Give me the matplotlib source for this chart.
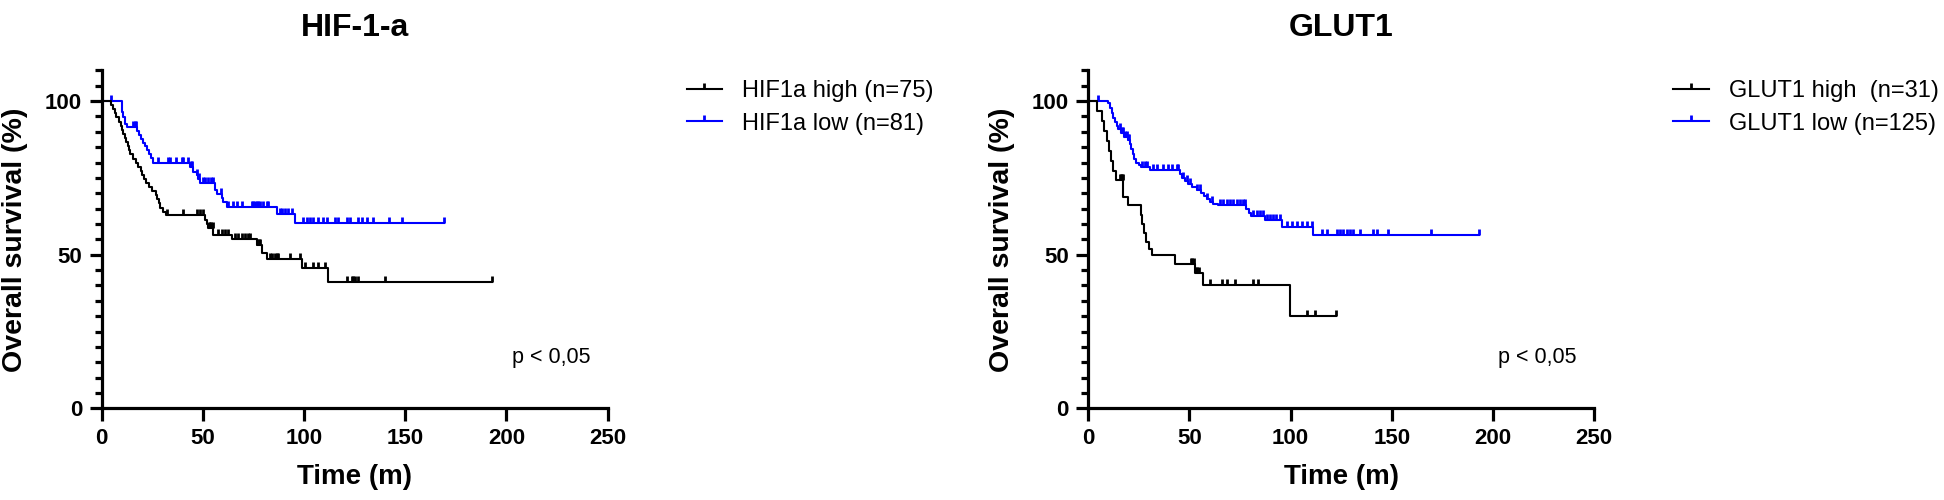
import numpy as np
import matplotlib
matplotlib.use("Agg")
import matplotlib.pyplot as plt
from matplotlib.lines import Line2D

plt.rcParams['font.family'] = ['Liberation Sans', 'DejaVu Sans']

# ---- HIF-1-a panel ----
# HIF1a high (black): event times (months) and survival (%) after each drop
hif_high_t = [4.4, 5.5, 6.5, 7.3, 8.6, 9.4, 10.0, 10.7, 11.5, 12.0, 12.8, 13.3, 14.1, 15.4,
              16.9, 18.1, 19.4, 20.0, 20.8, 22.0, 23.4, 25.0, 26.6, 27.4, 28.2, 29.0, 30.4,
              32.0, 51.0, 51.8, 52.6, 55.2, 64.2, 76.6, 79.0, 81.5, 98.8, 112.0]
hif_high_s = [98.7, 97.3, 96.0, 94.7, 93.3, 92.0, 90.7, 89.3, 88.0, 86.7, 85.3, 84.0, 82.7, 81.3,
              80.0, 78.7, 77.3, 76.0, 74.7, 73.3, 72.0, 70.7, 69.3, 68.0, 66.7, 65.3, 64.0,
              62.9, 61.3, 60.0, 58.7, 56.4, 55.0, 53.2, 50.5, 48.6, 45.6, 41.0]
hif_high_c = [32.5, 40.3, 47.0, 48.5, 50.2, 53.0, 53.6, 54.2, 54.8, 57.6, 59.3, 60.9, 62.6,
              65.9, 67.5, 69.2, 70.8, 72.5, 73.3, 76.9, 77.6, 78.4, 83.2, 84.0, 85.6, 86.5,
              87.3, 93.0, 98.0, 100.4, 104.6, 107.0, 110.3, 121.0, 123.5, 124.3, 125.1,
              126.8, 140.0, 192.7]

# HIF1a low (blue)
hif_low_t = [9.9, 10.7, 11.5, 12.3, 17.3, 18.3, 19.3, 20.3, 21.3, 22.3, 23.3, 24.3, 25.5,
             43.5, 45.2, 46.9, 47.7, 48.5, 56.0, 56.8, 59.3, 60.1, 61.8, 86.5, 95.5]
hif_low_s = [96.3, 94.9, 92.6, 91.4, 90.2, 89.0, 87.7, 86.5, 85.3, 84.0, 82.8, 81.6, 79.7,
             78.4, 77.0, 75.8, 74.5, 73.2, 71.0, 69.6, 68.3, 67.0, 65.6, 63.4, 60.2]
hif_low_c = [4.5, 15.6, 16.4, 17.0, 28.0, 33.0, 34.0, 36.7, 39.5, 40.3, 42.6, 44.0, 44.6,
             47.3, 48.0, 50.2, 51.0, 52.5, 54.2, 55.0, 59.0, 62.6, 65.0, 66.7, 69.2, 74.1,
             74.9, 75.7, 76.6, 77.4, 78.2, 79.9, 81.5, 82.3, 88.1, 88.9, 90.6, 92.2, 93.9,
             99.6, 101.3, 103.0, 104.6, 107.0, 109.5, 111.2, 115.3, 116.9, 121.0, 122.7,
             126.8, 128.4, 130.9, 134.2, 142.1, 148.2, 169.0]

# ---- GLUT1 panel ----
glut_high_t = [4.1, 6.6, 8.0, 9.1, 10.2, 11.2, 12.4, 13.6, 17.3, 19.8, 26.0, 26.8, 27.6,
               28.4, 30.0, 31.3, 42.8, 52.7, 56.8, 99.7]
glut_high_s = [96.8, 93.5, 90.3, 87.1, 83.9, 80.6, 77.4, 74.2, 68.9, 66.1, 63.0, 60.0, 57.0,
               54.0, 52.0, 49.9, 47.0, 43.9, 40.3, 30.2]
glut_high_c = [15.7, 16.2, 16.7, 17.0, 51.0, 51.5, 52.0, 53.3, 53.9, 54.6, 60.1, 65.9, 68.4,
               72.5, 81.5, 84.0, 107.9, 112.0, 122.2]

glut_low_t = [9.9, 10.7, 11.5, 12.3, 13.1, 14.0, 14.8, 16.3, 17.9, 19.4, 20.6, 21.1, 21.9,
              22.7, 23.6, 24.9, 26.0, 30.5, 45.3, 46.5, 48.0, 49.5, 51.5, 53.5, 55.5, 57.0,
              58.5, 60.0, 61.8, 64.2, 77.8, 79.5, 80.3, 87.3, 95.5, 111.2]
glut_low_s = [99.2, 97.6, 96.0, 94.4, 93.2, 92.0, 90.8, 89.6, 88.4, 87.2, 86.0, 84.4, 82.8,
              81.2, 80.0, 79.2, 78.4, 77.5, 76.3, 75.0, 74.0, 73.0, 72.0, 71.0, 70.0, 69.0,
              68.0, 67.2, 66.6, 66.1, 65.0, 63.6, 62.5, 61.3, 59.1, 56.4]
glut_low_c = [5.0, 15.7, 16.5, 17.1, 18.1, 19.0, 19.6, 20.3, 26.4, 28.0, 28.8, 32.1, 33.8,
              37.1, 39.5, 41.2, 43.7, 44.5, 47.0, 48.9, 50.2, 53.8, 55.2, 58.7, 60.9, 65.1,
              66.7, 68.4, 70.0, 71.6, 73.3, 74.9, 76.5, 77.2, 81.5, 83.2, 84.8, 86.5, 88.1,
              89.8, 91.4, 93.0, 94.7, 98.0, 100.5, 103.0, 105.4, 107.9, 110.4, 115.3, 117.8,
              122.7, 124.4, 126.1, 127.7, 129.4, 131.0, 134.2, 140.8, 142.5, 148.2, 169.2,
              193.0]

x_ticks = [0, 50, 100, 150, 200, 250]
y_ticks = [0, 50, 100]

BLUE = '#0000ff'
TICK_UP = [(0, 0), (0, 1)]  # censor mark: short tick above the line


def draw_group(ax, times, surv, cens, color, label):
    t = np.concatenate([[0], times, [cens[-1]]])
    s = np.concatenate([[100], surv, [surv[-1]]])
    ax.step(t, s, where='post', color=color, lw=1.5)
    s_full = np.concatenate([[100], surv])
    cy = s_full[np.searchsorted(times, cens, side='right')]
    ax.plot(cens, cy, ls='none', marker=TICK_UP, ms=8.5, mew=2.0, color=color)
    return Line2D([], [], color=color, lw=1.5, marker=TICK_UP, ms=8.5, mew=2.0, label=label)


def style(ax, title):
    ax.set_xlim(0, 250)
    ax.set_ylim(0, 110)
    ax.spines[['top', 'right']].set_visible(False)
    ax.spines[['left', 'bottom']].set_linewidth(2.3)
    ax.set_xticks(x_ticks)
    ax.set_yticks(y_ticks)
    ax.set_yticks(np.arange(0, 111, 5), minor=True)
    ax.tick_params(axis='both', which='major', length=9, width=2.3, labelsize=16, pad=5)
    ax.tick_params(axis='y', which='minor', length=5, width=2.3)
    for lab in ax.get_xticklabels() + ax.get_yticklabels():
        lab.set_fontweight('bold')
    ax.set_xlabel('Time (m)', fontsize=20, fontweight='bold', labelpad=11)
    ax.set_ylabel('Overall survival (%)', fontsize=20.5, fontweight='bold', labelpad=12)
    ax.set_title(title, fontsize=23, fontweight='bold', pad=25)
    ax.text(222, 14.8, 'p < 0,05', ha='center', va='baseline', fontsize=15.5)


fig = plt.figure(figsize=(19.44, 5.0), dpi=100)
ax1 = fig.add_axes([0.0523, 0.1832, 0.2603, 0.6762])
ax2 = fig.add_axes([0.5598, 0.1832, 0.2603, 0.6762])

h1b = draw_group(ax1, hif_low_t, hif_low_s, hif_low_c, BLUE, 'HIF1a low (n=81)')
h1a = draw_group(ax1, hif_high_t, hif_high_s, hif_high_c, 'black', 'HIF1a high (n=75)')
style(ax1, 'HIF-1-a')

h2b = draw_group(ax2, glut_low_t, glut_low_s, glut_low_c, BLUE, 'GLUT1 low (n=125)')
h2a = draw_group(ax2, glut_high_t, glut_high_s, glut_high_c, 'black', 'GLUT1 high  (n=31)')
style(ax2, 'GLUT1')

leg_kw = dict(loc='upper left', bbox_transform=fig.transFigure, frameon=False, fontsize=17,
              handlelength=1.5, handletextpad=0.85, labelspacing=0.45, borderpad=0,
              borderaxespad=0)
ax1.legend(handles=[h1a, h1b], bbox_to_anchor=(0.3532, 0.840), **leg_kw)
ax2.legend(handles=[h2a, h2b], bbox_to_anchor=(0.8608, 0.840), **leg_kw)

fig.savefig('out.png', dpi=100)
